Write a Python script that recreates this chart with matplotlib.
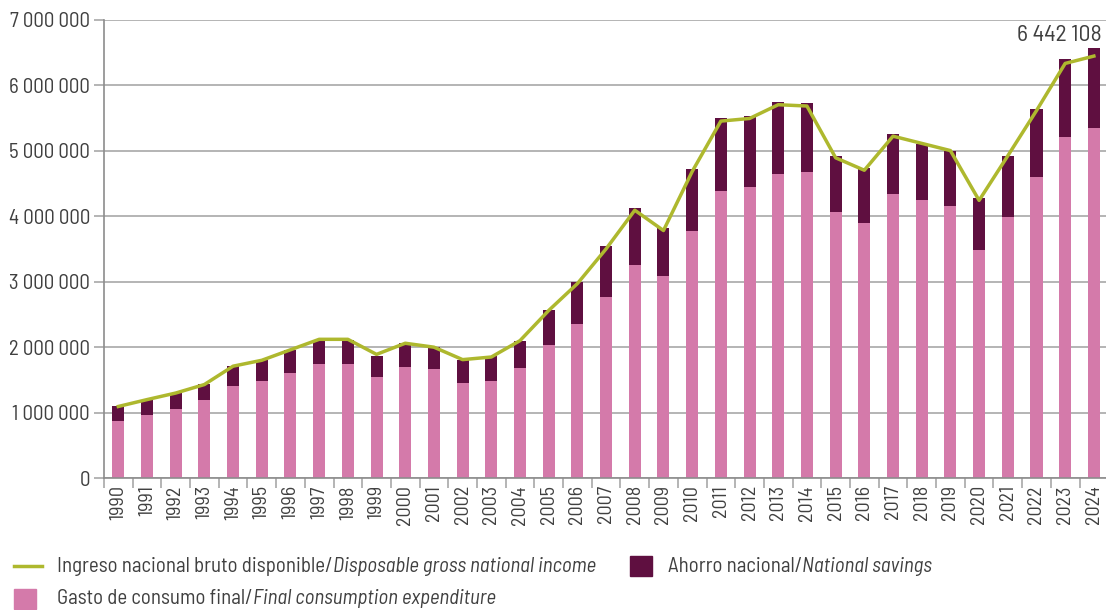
import matplotlib
matplotlib.use("Agg")
import matplotlib.pyplot as plt
from matplotlib import font_manager
from matplotlib.lines import Line2D
from matplotlib.patches import Rectangle

# ---- data ----
years = list(range(1990, 2025))
consumo = [0.88, 0.96, 1.06, 1.19, 1.40, 1.48, 1.60, 1.75, 1.75, 1.55,
           1.69, 1.66, 1.46, 1.49, 1.675, 2.04, 2.35, 2.77, 3.25, 3.08,
           3.78, 4.39, 4.45, 4.65, 4.68, 4.06, 3.90, 4.33, 4.24, 4.15,
           3.49, 3.98, 4.60, 5.20, 5.34]
total = [1.11, 1.19, 1.30, 1.44, 1.72, 1.80, 1.95, 2.11, 2.11, 1.87,
         2.06, 2.00, 1.80, 1.86, 2.10, 2.56, 2.99, 3.54, 4.12, 3.82,
         4.72, 5.50, 5.53, 5.74, 5.72, 4.91, 4.74, 5.25, 5.10, 5.00,
         4.27, 4.92, 5.64, 6.39, 6.56]
ingreso = [1.095, 1.20, 1.30, 1.43, 1.71, 1.80, 1.96, 2.12, 2.12, 1.89,
           2.06, 2.00, 1.81, 1.85, 2.10, 2.56, 2.97, 3.50, 4.09, 3.78,
           4.68, 5.45, 5.49, 5.70, 5.68, 4.89, 4.70, 5.22, 5.11, 5.00,
           4.24, 4.92, 5.61, 6.33, 6.442108]
consumo = [v * 1e6 for v in consumo]
ahorro = [t * 1e6 - c for t, c in zip(total, consumo)]
ingreso = [v * 1e6 for v in ingreso]
yticks = [0, 1e6, 2e6, 3e6, 4e6, 5e6, 6e6, 7e6]

lab_ingreso = ("Ingreso nacional bruto disponible/", "Disposable gross national income")
lab_ahorro = ("Ahorro nacional/", "National savings")
lab_gasto = ("Gasto de consumo final/", "Final consumption expenditure")

PINK = "#D47AAA"
DARK = "#5F0F40"
OLIVE = "#AEB82E"
GREY = "#404040"
GRID = "#A8A8A8"

avail = {f.name for f in font_manager.fontManager.ttflist}
cands = ["Barlow Semi Condensed", "Barlow Condensed", "Roboto Condensed",
         "IBM Plex Sans Condensed", "Open Sans"]
font = next((c for c in cands if c in avail), "DejaVu Sans")
plt.rcParams["font.family"] = [font, "DejaVu Sans"]


def fmt(v):
    return f"{int(round(v)):,}".replace(",", " ")


fig = plt.figure(figsize=(11.06, 6.10), dpi=100)
ax = fig.add_axes([0.094, 0.216, 0.908, 0.752])

x = list(range(len(years)))
ax.bar(x, consumo, width=0.42, color=PINK, zorder=2)
ax.bar(x, ahorro, bottom=consumo, width=0.42, color=DARK, zorder=2)
ax.plot(x, ingreso, color=OLIVE, lw=2.5, zorder=3)

ax.set_xlim(-0.5, len(years) - 0.5)
ax.set_ylim(0, 7e6)
ax.set_yticks(yticks)
ax.set_yticklabels([fmt(v) for v in yticks], fontsize=15, color=GREY)
ax.yaxis.grid(True, color=GRID, lw=1.2, zorder=0)
ax.set_axisbelow(True)

ax.set_xticks(x)
ax.set_xticklabels([str(y) for y in years], rotation=90, fontsize=14.5, color=GREY)
ax.tick_params(axis="x", length=0, pad=5)
ax.set_xticks([i - 0.5 for i in range(len(years) + 1)], minor=True)
ax.tick_params(axis="x", which="minor", length=7, color=GRID, width=1.2)
ax.tick_params(axis="y", length=7, color=GRID, width=1.2, pad=3)

for s in ["top", "right"]:
    ax.spines[s].set_visible(False)
for s in ["left", "bottom"]:
    ax.spines[s].set_color("#8C8C8C")
    ax.spines[s].set_linewidth(1.2)

ax.annotate(fmt(ingreso[-1]), xy=(x[-1], ingreso[-1]), xytext=(6, 7),
            textcoords="offset points", ha="right", va="bottom",
            fontsize=17, color=GREY, annotation_clip=False)


# ---- legend drawn by hand (mixed upright / italic labels) ----
def legend_text(px, py, parts):
    t1 = fig.text(px / 1106, 1 - py / 610, parts[0], fontsize=15, color=GREY,
                  va="center", ha="left")
    ax.annotate(parts[1], xy=(1, 0.5), xycoords=t1, va="center", ha="left",
                fontsize=15, color=GREY, style="italic", annotation_clip=False)


fig.add_artist(Line2D([14 / 1106, 42 / 1106], [1 - 566 / 610] * 2,
                      color=OLIVE, lw=2.5))
legend_text(57, 566, lab_ingreso)
fig.add_artist(Rectangle((630 / 1106, 1 - 576 / 610), 22 / 1106, 20 / 610,
                         color=DARK, transform=fig.transFigure))
legend_text(668, 566, lab_ahorro)
fig.add_artist(Rectangle((14 / 1106, 1 - 609 / 610), 22 / 1106, 20 / 610,
                         color=PINK, transform=fig.transFigure))
legend_text(57, 599, lab_gasto)

fig.savefig("out.png", dpi=100)
